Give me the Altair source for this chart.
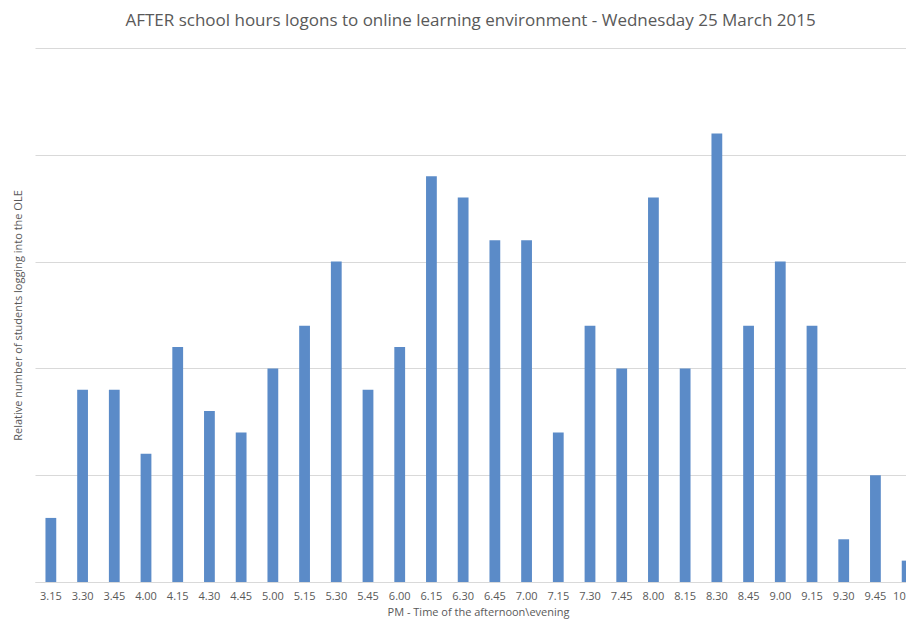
import altair as alt
import pandas as pd

times = ["3.15", "3.30", "3.45", "4.00", "4.15", "4.30", "4.45", "5.00", "5.15", "5.30",
         "5.45", "6.00", "6.15", "6.30", "6.45", "7.00", "7.15", "7.30", "7.45", "8.00",
         "8.15", "8.30", "8.45", "9.00", "9.15", "9.30", "9.45", "10.00"]
logons = [3, 9, 9, 6, 11, 8, 7, 10, 12, 15,
          9, 11, 19, 18, 16, 16, 7, 12, 10, 18,
          10, 21, 12, 15, 12, 2, 5, 1]

df = pd.DataFrame({"time": times, "logons": logons})

FONT = "Open Sans"
GREY = "#595959"

chart = (
    alt.Chart(df)
    .mark_bar(color="#5B8BC8")
    .encode(
        x=alt.X(
            "time:N",
            sort=times,
            title="PM - Time of the afternoon\\evening",
            scale=alt.Scale(paddingInner=0.66, paddingOuter=0.33, range=[0, 888]),
            axis=alt.Axis(
                labelAngle=0,
                ticks=False,
                labelPadding=8,
                titlePadding=5,
                domainColor="#d9d9d9",
                labelColor=GREY,
                titleColor=GREY,
                labelFont=FONT,
                titleFont=FONT,
                labelFontSize=11,
                titleFontSize=11,
                titleFontWeight="normal",
                labelOverlap=False,
                grid=False,
                titleX=443,
            ),
        ),
        y=alt.Y(
            "logons:Q",
            title="Relative number of students logging into the OLE",
            scale=alt.Scale(domain=[0, 25], nice=False),
            axis=alt.Axis(
                values=[0, 5, 10, 15, 20, 25],
                labels=False,
                ticks=False,
                domain=False,
                gridColor="#d9d9d9",
                titleColor=GREY,
                titleFont=FONT,
                titleFontSize=11,
                titleFontWeight="normal",
                titlePadding=12,
            ),
        ),
    )
    .properties(
        width=871,
        height=534,
        title=alt.TitleParams(
            "AFTER school hours logons to online learning environment - Wednesday 25 March 2015",
            font=FONT,
            fontSize=17,
            fontWeight="normal",
            color=GREY,
            offset=18,
            anchor="middle",
        ),
        autosize=alt.AutoSizeParams(type="none"),
        padding={"left": 27, "top": 40, "right": 0, "bottom": 39},
    )
    .configure_view(stroke=None)
)

chart.save("out.html", embed_options={"renderer": "svg", "actions": False})
